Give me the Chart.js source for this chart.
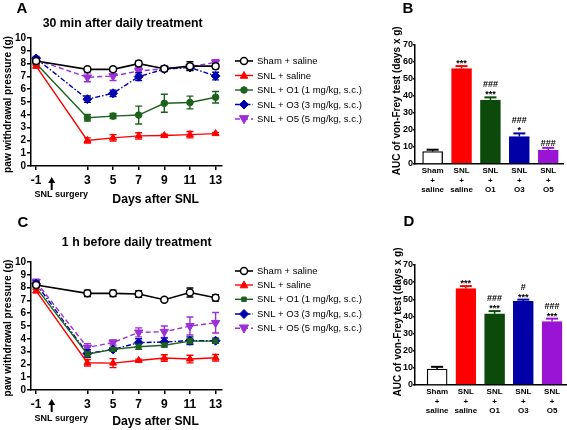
<!DOCTYPE html>
<html><head><meta charset="utf-8">
<script src="https://cdn.jsdelivr.net/npm/chart.js@4/dist/chart.umd.min.js"></script>
<style>
html,body{margin:0;padding:0;background:#fff;}
#wrap{position:relative;width:567px;height:430px;overflow:hidden;background:#fff;}
canvas{position:absolute;}
</style></head>
<body><div id="wrap">
<canvas id="cA" width="385" height="215" style="left:0;top:0"></canvas>
<canvas id="cC" width="385" height="215" style="left:0;top:215px"></canvas>
<canvas id="cB" width="182" height="215" style="left:385px;top:0"></canvas>
<canvas id="cD" width="182" height="215" style="left:385px;top:215px"></canvas>
</div>
<script>
// ---------- data ----------
const days = [-1, 3, 5, 7, 9, 11, 13];
const dayTicks = [-1, 3, 5, 7, 9, 11, 13];
const seriesNames = ['Sham + saline', 'SNL + saline', 'SNL + O1 (1 mg/kg, s.c.)', 'SNL + O3 (3 mg/kg, s.c.)', 'SNL + O5 (5 mg/kg, s.c.)'];

const aSham = [8.2, 7.55, 7.55, 8.0, 7.6, 7.8, 7.8];
const aShamErr = [0.15, 0.15, 0.15, 0.2, 0.2, 0.35, 0.2];
const aSaline = [7.8, 2.0, 2.2, 2.35, 2.38, 2.45, 2.53];
const aSalineErr = [0.15, 0.2, 0.25, 0.25, 0.1, 0.25, 0.1];
const aO1 = [8.0, 3.77, 3.9, 3.98, 4.9, 4.96, 5.37];
const aO1Err = [0.15, 0.25, 0.2, 0.7, 0.7, 0.5, 0.45];
const aO3 = [8.4, 5.22, 5.68, 6.98, 7.57, 7.7, 7.03];
const aO3Err = [0.15, 0.25, 0.25, 0.3, 0.2, 0.2, 0.3];
const aO5 = [8.3, 6.93, 7.03, 7.42, 7.6, 7.75, 8.1];
const aO5Err = [0.15, 0.35, 0.35, 0.3, 0.2, 0.2, 0.2];

const cSham = [8.2, 7.55, 7.55, 7.5, 7.05, 7.62, 7.2];
const cShamErr = [0.15, 0.25, 0.25, 0.25, 0.1, 0.35, 0.25];
const cSaline = [7.75, 2.13, 2.1, 2.31, 2.5, 2.42, 2.52];
const cSalineErr = [0.15, 0.25, 0.35, 0.1, 0.25, 0.3, 0.25];
const cO1 = [8.0, 2.8, 3.17, 3.38, 3.5, 3.82, 3.82];
const cO1Err = [0.15, 0.2, 0.15, 0.2, 0.15, 0.2, 0.15];
const cO3 = [8.3, 2.85, 3.17, 3.7, 3.75, 3.85, 3.85];
const cO3Err = [0.2, 0.3, 0.15, 0.3, 0.3, 0.3, 0.2];
const cO5 = [8.45, 3.32, 3.71, 4.5, 4.55, 5.0, 5.25];
const cO5Err = [0.2, 0.3, 0.2, 0.35, 0.45, 0.7, 0.8];

const groupLabels = [['Sham', '+', 'saline'], ['SNL', '+', 'saline'], ['SNL', '+', 'O1'], ['SNL', '+', 'O3'], ['SNL', '+', 'O5']];
const bAuc = [7.3, 56.2, 37.6, 16.2, 8.2];
const bAucErr = [1.1, 1.4, 1.6, 1.8, 1.3];
const bMarks = [[], ['***'], ['###', '***'], ['###', '*'], ['###']];
const dAuc = [9.3, 56.3, 41.5, 48.8, 37.0];
const dAucErr = [1.3, 1.4, 1.6, 1.0, 1.7];
const dMarks = [[], ['***'], ['###', '***'], ['#', '***'], ['###', '***']];

// ---------- styles ----------
const FONT = "'Liberation Sans', Arial, sans-serif";
Chart.defaults.font.family = FONT;
Chart.defaults.color = '#000';
const colLine = ['#000000', '#ff0000', '#1d611d', '#0000b0', '#9b30d8'];
const colBar = ['#ffffff', '#ff0000', '#0b4a0b', '#0000a6', '#9a14d6'];
const colBarBorder = ['#000000', '#ff0000', '#0b4a0b', '#0000a6', '#9a14d6'];
const dashes = [[], [], [], [5, 2, 1.5, 2], [5, 3]];

function drawMarker(ctx, style, x, y, r, fill, stroke, lw) {
  ctx.save();
  ctx.setLineDash([]);
  ctx.beginPath();
  if (style === 'circle') { ctx.arc(x, y, r, 0, Math.PI * 2); }
  else if (style === 'triangle') { ctx.moveTo(x, y - r); ctx.lineTo(x + r * 0.95, y + r * 0.7); ctx.lineTo(x - r * 0.95, y + r * 0.7); ctx.closePath(); }
  else if (style === 'triangleDown') { ctx.moveTo(x, y + r); ctx.lineTo(x + r * 0.95, y - r * 0.7); ctx.lineTo(x - r * 0.95, y - r * 0.7); ctx.closePath(); }
  else if (style === 'rectRot') { ctx.moveTo(x, y - r); ctx.lineTo(x + r, y); ctx.lineTo(x, y + r); ctx.lineTo(x - r, y); ctx.closePath(); }
  else if (style === 'rect') { ctx.rect(x - r * 0.75, y - r * 0.75, r * 1.5, r * 1.5); }
  ctx.fillStyle = fill; ctx.fill();
  ctx.lineWidth = lw; ctx.strokeStyle = stroke; ctx.stroke();
  ctx.restore();
}

// error bars for line charts
const errPlugin = {
  id: 'errbars',
  beforeDatasetDraw(chart, args) {
    const ds = chart.data.datasets[args.index];
    if (!ds.err) return;
    const ctx = chart.ctx, ys = chart.scales.y;
    ctx.save();
    ctx.setLineDash([]);
    ctx.strokeStyle = ds.borderColor; ctx.lineWidth = 1.4;
    args.meta.data.forEach((pt, i) => {
      const v = ds.data[i].y, e = ds.err[i];
      const y1 = ys.getPixelForValue(v + e), y2 = ys.getPixelForValue(v - e);
      ctx.beginPath();
      ctx.moveTo(pt.x, y1); ctx.lineTo(pt.x, y2);
      ctx.moveTo(pt.x - 3.5, y1); ctx.lineTo(pt.x + 3.5, y1);
      ctx.moveTo(pt.x - 3.5, y2); ctx.lineTo(pt.x + 3.5, y2);
      ctx.stroke();
    });
    ctx.restore();
  }
};

// decorations: titles, labels, legend, arrow
const decoPlugin = {
  id: 'deco',
  afterDraw(chart) {
    const d = chart.options.plugins.deco;
    if (!d) return;
    const ctx = chart.ctx;
    ctx.save();
    ctx.fillStyle = '#000';
    (d.texts || []).forEach(t => {
      ctx.save();
      ctx.font = t.font; ctx.textAlign = 'center'; ctx.textBaseline = 'middle';
      ctx.translate(t.x, t.y);
      if (t.rot) ctx.rotate(t.rot);
      ctx.fillText(t.s, 0, 0);
      ctx.restore();
    });
    if (d.arrow) {
      const a = d.arrow;
      ctx.strokeStyle = '#000'; ctx.lineWidth = 2;
      ctx.beginPath(); ctx.moveTo(a.x, a.y2); ctx.lineTo(a.x, a.y1 + 4); ctx.stroke();
      ctx.beginPath(); ctx.moveTo(a.x, a.y1); ctx.lineTo(a.x + 3.5, a.y1 + 6); ctx.lineTo(a.x - 3.5, a.y1 + 6); ctx.closePath(); ctx.fill();
    }
    if (d.legend) {
      const L = d.legend;
      chart.data.datasets.forEach((ds, i) => {
        const y = L.rows[i];
        ctx.save();
        ctx.strokeStyle = ds.borderColor; ctx.lineWidth = ds.borderWidth;
        ctx.setLineDash(ds.borderDash || []);
        ctx.beginPath(); ctx.moveTo(L.x0, y); ctx.lineTo(L.x1, y); ctx.stroke();
        ctx.restore();
        drawMarker(ctx, ds.legendStyle, (L.x0 + L.x1) / 2, y, ds.pointRadius, ds.pointBackgroundColor, ds.pointBorderColor, ds.pointBorderWidth);
        ctx.fillStyle = '#000';
        ctx.font = L.font; ctx.textAlign = 'left'; ctx.textBaseline = 'middle';
        ctx.fillText(seriesNames[i], L.tx, y + 0.5);
      });
    }
    ctx.restore();
  }
};

function lineDatasets(vals, errs, greenStyle) {
  const styles = [
    { ps: 'circle', leg: 'circle', r: 3.5, bg: '#ffffff', bw: 1.5 },
    { ps: 'triangle', leg: 'triangle', r: 4, bg: colLine[1], bw: 1 },
    { ps: greenStyle, leg: greenStyle, r: greenStyle === 'rect' ? 3 : 3.3, bg: colLine[2], bw: 1 },
    { ps: 'rectRot', leg: 'rectRot', r: 4.5, bg: colLine[3], bw: 1 },
    { ps: 'triangle', leg: 'triangleDown', r: 4.8, bg: colLine[4], bw: 1, rot: 180 }
  ];
  return vals.map((v, i) => ({
    label: seriesNames[i],
    data: days.map((d, k) => ({ x: d, y: v[k] })),
    err: errs[i],
    borderColor: colLine[i],
    borderWidth: i === 0 ? 1.6 : 1.4,
    borderDash: dashes[i],
    pointStyle: styles[i].ps,
    legendStyle: styles[i].leg,
    pointRotation: styles[i].rot || 0,
    pointRadius: styles[i].r,
    pointBackgroundColor: styles[i].bg,
    pointBorderColor: colLine[i],
    pointBorderWidth: styles[i].bw,
    tension: 0,
    fill: false
  }));
}

function lineChart(id, datasets, top, bottom, deco) {
  const H = 215;
  return new Chart(document.getElementById(id), {
    type: 'line',
    data: { datasets },
    plugins: [errPlugin, decoPlugin],
    options: {
      responsive: false, animation: false, devicePixelRatio: 1,
      layout: { padding: { left: 0, right: 385 - 222, top: top, bottom: 0 } },
      plugins: { legend: { display: false }, tooltip: { enabled: false }, deco },
      scales: {
        x: {
          type: 'linear', min: -1.4, max: 13.5,
          afterBuildTicks: s => { s.ticks = dayTicks.map(v => ({ value: v })); },
          afterFit: s => { s.height = H - bottom; },
          ticks: { font: { size: 12, weight: 'bold' }, padding: 3, color: '#000', maxRotation: 0, autoSkip: false },
          grid: { drawOnChartArea: false, drawTicks: true, tickLength: 4, color: '#000', lineWidth: 1.5 },
          border: { color: '#000', width: 1.5 }
        },
        y: {
          min: 0, max: 10,
          afterFit: s => { s.width = 31; },
          ticks: { stepSize: 1, autoSkip: false, font: { size: 10, weight: 'bold', lineHeight: 1 }, padding: 1, color: '#000' },
          grid: { drawOnChartArea: false, drawTicks: true, tickLength: 4, color: '#000', lineWidth: 1.5 },
          border: { color: '#000', width: 1.5 }
        }
      }
    }
  });
}

// bar chart error bars + significance marks
const barPlugin = {
  id: 'barerr',
  afterDatasetsDraw(chart) {
    const ds = chart.data.datasets[0];
    const ctx = chart.ctx, ys = chart.scales.y, xs = chart.scales.x;
    ctx.save();
    ds.data.forEach((p, i) => {
      const x = xs.getPixelForValue(p.x);
      const yTop = ys.getPixelForValue(p.y);
      const yE = ys.getPixelForValue(p.y + ds.err[i]);
      ctx.strokeStyle = colBarBorder[i];
      ctx.lineWidth = 1.5;
      ctx.beginPath(); ctx.moveTo(x, yTop); ctx.lineTo(x, yE); ctx.stroke();
      ctx.lineWidth = 2;
      ctx.beginPath(); ctx.moveTo(x - 6, yE); ctx.lineTo(x + 6, yE); ctx.stroke();
      const marks = ds.marks[i];
      ctx.fillStyle = '#000';
      ctx.font = 'bold 9px ' + FONT; ctx.textAlign = 'center'; ctx.textBaseline = 'middle';
      for (let k = 0; k < marks.length; k++) {
        const m = marks[marks.length - 1 - k];
        const yy = yE - 5 - k * 8 + (m.indexOf('*') >= 0 ? 2.5 : 0.5);
        ctx.fillText(m, x, yy);
      }
    });
    ctx.restore();
  }
};

function barChart(id, vals, errs, marks, xmin, xmax, top, bottom, right, deco) {
  const H = 215;
  return new Chart(document.getElementById(id), {
    type: 'bar',
    data: {
      datasets: [{
        data: vals.map((v, i) => ({ x: i, y: v })),
        err: errs, marks: marks,
        backgroundColor: colBar, borderColor: colBarBorder,
        borderWidth: 1.3, barThickness: 20, borderSkipped: 'bottom'
      }]
    },
    plugins: [barPlugin, decoPlugin],
    options: {
      responsive: false, animation: false, devicePixelRatio: 1,
      layout: { padding: { left: 0, right: right, top: top, bottom: 0 } },
      plugins: { legend: { display: false }, tooltip: { enabled: false }, deco },
      scales: {
        x: {
          type: 'linear', min: xmin, max: xmax, offset: false,
          afterBuildTicks: s => { s.ticks = groupLabels.map((g, i) => ({ value: i })); },
          afterFit: s => { s.height = H - bottom; },
          ticks: { callback: (v, i) => groupLabels[i], font: { size: 8, weight: 'bold', lineHeight: 1.2 }, padding: 2, color: '#000', maxRotation: 0, autoSkip: false },
          grid: { display: false, drawTicks: false },
          border: { color: '#000', width: 1.5 }
        },
        y: {
          min: 0, max: 70,
          afterFit: s => { s.width = 30; },
          ticks: { stepSize: 10, autoSkip: false, font: { size: 9, weight: 'bold' }, padding: 0, color: '#000' },
          grid: { drawOnChartArea: false, drawTicks: true, tickLength: 2, color: '#000', lineWidth: 1.5 },
          border: { color: '#000', width: 1.5 }
        }
      }
    }
  });
}

const legendFont = '9.5px ' + FONT;

lineChart('cA', lineDatasets([aSham, aSaline, aO1, aO3, aO5], [aShamErr, aSalineErr, aO1Err, aO3Err, aO5Err], 'circle'), 38, 166, {
  texts: [
    { s: 'A', x: 22, y: 8.5, font: 'bold 15px ' + FONT },
    { s: '30 min after daily treatment', x: 122.7, y: 23.3, font: 'bold 12.3px ' + FONT },
    { s: 'paw withdrawal pressure (g)', x: 8, y: 104.5, rot: -Math.PI / 2, font: 'bold 10.2px ' + FONT },
    { s: 'SNL surgery', x: 61.3, y: 194.3, font: 'bold 9px ' + FONT },
    { s: 'Days after SNL', x: 155.7, y: 200, font: 'bold 12.2px ' + FONT }
  ],
  arrow: { x: 51.7, y1: 177, y2: 190 },
  legend: { x0: 235, x1: 253, tx: 257, rows: [61, 75.5, 90, 104.5, 119], font: legendFont }
});

lineChart('cC', lineDatasets([cSham, cSaline, cO1, cO3, cO5], [cShamErr, cSalineErr, cO1Err, cO3Err, cO5Err], 'rect'), 47, 175, {
  texts: [
    { s: 'C', x: 23, y: 8, font: 'bold 15px ' + FONT },
    { s: '1 h before daily treatment', x: 136.7, y: 27.3, font: 'bold 12.3px ' + FONT },
    { s: 'paw withdrawal pressure (g)', x: 8, y: 113, rot: -Math.PI / 2, font: 'bold 10.2px ' + FONT },
    { s: 'SNL surgery', x: 61.3, y: 203.3, font: 'bold 9px ' + FONT },
    { s: 'Days after SNL', x: 155.5, y: 206.7, font: 'bold 12.2px ' + FONT }
  ],
  arrow: { x: 51.7, y1: 184, y2: 197 },
  legend: { x0: 235, x1: 253, tx: 257, rows: [56, 70, 84.3, 99, 113.3], font: legendFont }
});

barChart('cB', bAuc, bAucErr, bMarks, -0.61, 4.51, 45, 164, 4, {
  texts: [
    { s: 'B', x: 23, y: 9, font: 'bold 15px ' + FONT },
    { s: 'AUC of von-Frey test (days x g)', x: 12.5, y: 100.8, rot: -Math.PI / 2, font: 'bold 10px ' + FONT }
  ]
});

barChart('cD', dAuc, dAucErr, dMarks, -0.77, 4.52, 50, 170, 0, {
  texts: [
    { s: 'D', x: 24, y: 7, font: 'bold 15px ' + FONT },
    { s: 'AUC of von-Frey test (days x g)', x: 13, y: 107, rot: -Math.PI / 2, font: 'bold 10px ' + FONT }
  ]
});
</script>
</body></html>
